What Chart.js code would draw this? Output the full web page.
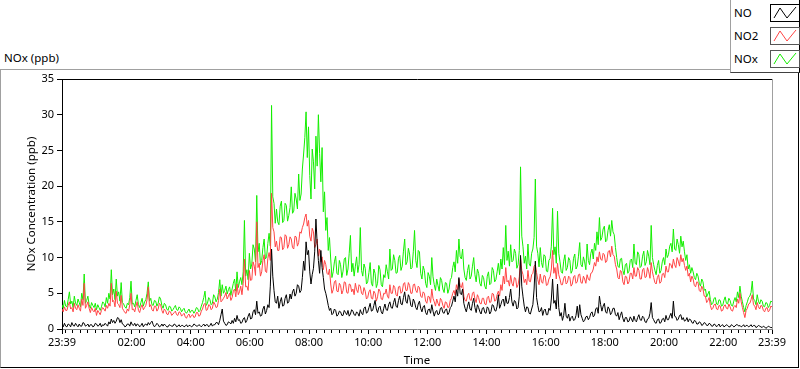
<!DOCTYPE html>
<html><head><meta charset="utf-8">
<script src="https://cdn.jsdelivr.net/npm/chart.js@4/dist/chart.umd.min.js"></script>
<style>
html,body{margin:0;padding:0;background:#fff;}
body{width:800px;height:369px;position:relative;overflow:hidden;font-family:"Noto Sans",sans-serif;color:#000;}
#frame{position:absolute;left:0;top:69px;width:797px;height:297px;border-top:1px solid #a0a0a0;border-left:1px solid #a0a0a0;border-right:1px solid #000;border-bottom:1px solid #000;}
#caption{position:absolute;left:4px;top:50px;font-size:11.5px;line-height:16px;white-space:nowrap;}
#wrap{position:absolute;left:0;top:0;width:800px;height:369px;}
#legend{position:absolute;left:730px;top:0;width:68px;height:72px;background:#fff;border-left:1px solid #a0a0a0;border-bottom:1px solid #404040;border-right:1px solid #000;}
.row{position:absolute;left:3px;height:18px;width:66px;}
.row span{position:absolute;left:0;top:0;font-size:11.5px;line-height:18px;white-space:nowrap;}
.row svg{position:absolute;left:36px;top:0;}
</style></head>
<body>
<div id="frame"></div>
<div id="caption">NOx (ppb)</div>
<div id="wrap"><canvas id="c" width="800" height="369"></canvas></div>
<div id="legend"></div>
<script>
// ---- data: readings every 2.5 minutes starting 23:39 ----
const startClock = '23:39';
const sampleMinutes = 2.5;
const seriesNames = ['NO', 'NO2', 'NOx'];
const seriesColors = ['#000000', '#ff4444', '#14ee00'];
const yTickValues = [0, 5, 10, 15, 20, 25, 30, 35];
const xTickLabels = ['23:39','02:00','04:00','06:00','08:00','10:00','12:00','14:00','16:00','18:00','20:00','22:00','23:39'];

const NO = [
0.5,0.3,0.8,0.4,0.3,0.7,0.6,0.3,0.9,0.5,0.4,0.8,0.5,0.3,0.7,0.4,0.4,0.9,0.8,0.4,0.5,0.7,0.3,0.6,0.6,0.3,0.4,0.8,0.7,0.4,0.5,0.8,0.3,0.6,
0.5,0.8,0.6,0.4,1.0,0.7,1.4,0.9,1.2,0.8,1.1,1.6,1.5,0.9,1.3,0.7,0.6,0.3,0.4,0.7,0.7,0.4,1.0,0.6,0.5,0.8,0.4,0.7,0.6,0.3,0.5,0.8,0.3,0.6,0.7,0.5,0.9,0.6,0.9,1.1,0.6,0.3,0.5,0.8,0.6,0.3,0.4,0.7,
0.4,0.7,0.5,0.3,0.3,0.6,0.5,0.4,0.4,0.7,0.6,0.3,0.4,0.6,0.3,0.5,0.5,0.3,0.4,0.6,0.3,0.5,0.5,0.3,0.4,0.7,0.6,0.4,0.4,0.6,0.5,0.3,
0.5,0.7,0.4,0.6,0.6,0.3,0.5,0.8,0.4,0.6,0.6,0.9,0.9,0.6,1.2,2.0,2.8,1.1,0.8,0.5,0.6,1.0,0.9,0.7,1.2,0.8,1.5,1.0,1.9,1.2,1.3,0.8,
0.9,1.4,1.6,0.9,1.2,1.8,2.2,1.4,1.5,2.4,2.7,2.0,3.9,2.2,2.4,1.8,1.9,2.8,3.2,2.1,2.6,3.4,3.0,6.0,11.2,7.4,5.4,3.8,
3.6,4.6,2.9,3.8,4.4,3.2,3.3,4.3,4.8,3.6,3.8,4.9,4.2,5.2,5.6,4.6,5.0,6.2,6.0,5.1,5.4,7.2,
9.5,8.2,12.2,10.4,11.0,8.0,6.3,7.6,8.5,10.8,15.4,12.0,9.6,7.8,11.0,8.6,7.2,5.6,5.0,4.2,3.3,2.6,
2.9,2.0,2.2,2.8,2.6,1.8,2.0,2.5,2.4,1.9,1.9,2.6,2.3,2.0,2.6,1.8,2.1,2.7,2.5,2.0,1.9,2.4,2.2,1.8,2.7,2.2,2.0,2.9,3.1,2.2,2.4,3.0,3.6,2.5,
2.6,3.3,4.0,2.8,2.3,3.0,3.2,2.4,2.1,2.9,3.5,2.7,2.6,3.4,3.8,3.0,2.9,3.7,4.3,3.2,3.0,4.0,4.6,3.5,3.4,4.4,5.2,3.9,3.6,4.8,4.4,3.3,3.1,4.2,
3.8,3.0,2.7,3.5,3.9,2.9,2.4,3.1,3.3,2.3,2.0,2.7,2.8,2.2,3.4,2.5,1.8,2.4,2.6,2.0,2.1,2.9,3.0,2.3,2.2,2.7,2.8,2.0,2.3,3.0,3.2,3.9,4.6,3.8,5.5,4.6,7.2,5.0,4.8,5.6,3.6,2.9,2.4,3.2,3.8,2.8,2.6,3.6,4.3,3.0,2.3,3.4,3.0,2.4,2.1,2.9,
3.0,2.3,2.2,3.1,2.9,2.1,2.4,3.4,3.3,2.6,2.5,3.2,4.8,2.9,3.4,4.0,4.2,3.2,4.6,3.6,3.6,4.4,5.6,3.8,3.2,4.0,3.8,2.8,3.0,4.6,10.3,6.0,4.5,3.2,
2.4,3.1,3.0,2.2,2.1,2.8,3.4,5.6,9.5,4.4,3.3,2.4,2.5,3.0,1.9,2.6,2.8,2.0,2.0,2.9,2.6,4.2,7.0,3.6,4.0,2.8,6.3,3.0,1.8,2.3,1.2,1.9,3.6,1.8,1.5,2.1,1.1,1.6,1.8,1.2,1.3,1.9,3.2,1.6,3.4,2.0,1.5,1.0,1.2,1.7,1.8,1.3,
1.6,2.2,2.4,1.7,1.9,2.8,3.0,2.2,4.6,3.4,2.5,3.2,3.6,2.4,2.2,3.1,2.8,2.0,2.3,2.9,2.9,2.0,1.8,2.3,1.3,1.9,2.4,1.5,1.0,1.6,1.6,1.0,1.1,1.7,
1.4,1.0,1.8,1.2,1.0,1.6,2.0,1.3,1.2,1.8,1.6,1.0,0.9,1.4,1.5,2.2,3.7,1.6,1.3,0.9,0.8,1.3,1.4,0.8,0.9,1.4,1.5,1.0,1.9,1.3,1.3,1.8,2.2,1.5,3.9,1.8,1.7,1.2,1.4,1.9,2.0,1.3,1.6,1.1,1.2,1.6,1.0,1.4,1.3,0.9,0.8,1.2,1.1,0.7,0.7,1.0,0.9,0.5,0.6,0.9,
0.8,0.5,0.5,0.8,0.7,0.4,0.4,0.7,0.6,0.3,0.5,0.7,0.3,0.5,0.6,0.3,0.4,0.6,0.5,0.3,0.3,0.6,0.5,0.3,0.4,0.6,0.6,0.4,0.5,0.3,0.4,0.6,0.3,0.5,0.5,0.3,0.4,0.6,0.3,0.5,0.5,0.2,0.3,0.5,0.4,0.3,0.2,0.4,0.3,0.1,0.2,0.4,0.3,0.2,0.2
];

const NO2 = [
2.8,2.4,3.1,2.6,2.6,3.3,3.8,2.8,3.0,2.4,3.6,2.9,2.7,3.4,2.9,2.5,4.2,3.3,6.4,2.9,3.3,3.8,2.9,2.3,3.0,2.6,2.4,2.9,1.9,2.6,2.3,2.0,2.6,3.0,
2.8,2.5,3.3,2.9,3.6,3.2,6.4,3.8,4.0,3.1,5.3,3.6,3.4,3.0,4.7,2.9,2.6,2.3,2.2,2.8,2.5,3.4,5.0,2.7,2.8,2.4,3.2,3.8,2.6,2.3,3.0,3.4,2.7,3.0,3.3,4.1,5.9,3.1,3.4,2.7,2.5,3.2,3.2,2.5,2.8,3.6,3.4,2.6,
2.2,2.8,2.6,2.1,2.0,2.5,2.4,1.9,2.1,2.3,2.5,2.0,1.9,2.4,2.3,1.8,2.0,2.2,1.7,1.5,1.9,2.1,1.6,1.9,2.0,1.6,1.7,2.3,2.3,1.8,1.9,2.5,
2.8,3.4,3.6,2.6,2.7,3.4,3.3,2.7,2.9,3.8,3.5,3.0,3.1,4.0,5.6,3.8,4.0,4.3,4.6,5.1,4.2,4.6,5.0,4.0,4.4,5.3,5.6,4.5,6.3,4.8,5.2,6.0,
4.8,6.4,9.8,5.9,6.0,5.4,8.2,6.8,6.9,9.4,8.8,7.5,15.0,8.6,9.2,7.4,8.0,9.6,10.4,8.1,7.9,9.9,10.7,9.6,19.0,14.2,13.6,11.5,
12.3,11.0,11.0,12.9,12.8,11.1,11.4,13.2,13.0,11.3,11.8,12.9,12.6,11.4,11.2,13.0,12.9,11.6,12.1,13.6,13.4,14.2,
14.7,15.6,16.1,14.4,15.2,13.0,12.3,14.1,13.6,11.4,11.8,12.6,10.2,11.2,9.4,10.1,8.3,9.6,9.0,7.8,7.6,8.4,
6.3,5.0,5.5,6.6,6.8,5.3,5.2,6.4,6.1,4.9,5.4,6.6,6.5,5.1,5.0,6.3,6.2,5.2,5.6,4.8,6.4,5.5,5.1,6.2,6.0,5.0,4.8,5.8,5.3,4.2,4.4,5.2,5.5,4.3,
4.2,5.3,5.0,3.9,4.5,5.6,5.3,4.2,4.1,5.0,4.9,5.6,4.6,4.3,6.2,5.0,5.0,6.1,5.8,4.8,4.6,5.9,6.0,5.0,5.2,6.3,6.5,5.4,5.4,6.5,6.1,5.0,5.0,6.2,
6.3,5.4,5.1,6.0,5.8,4.6,4.4,5.2,5.0,3.9,3.6,4.6,4.5,3.7,5.6,4.3,3.8,3.2,4.2,3.6,3.2,4.3,4.0,3.3,2.9,3.8,3.7,3.0,3.1,4.0,4.3,5.0,5.4,4.7,6.2,5.5,7.0,6.1,5.8,6.5,4.6,4.0,3.9,4.7,5.0,4.1,4.0,5.0,5.2,4.2,3.7,4.8,4.4,3.6,3.5,4.3,
4.3,3.5,3.4,4.4,4.6,3.7,3.8,5.0,4.9,3.9,4.0,4.8,5.3,4.6,6.2,5.4,7.4,6.3,8.6,6.6,6.8,6.0,7.5,6.4,6.0,7.2,7.1,5.8,6.2,7.3,10.0,8.2,7.6,6.5,
7.0,6.2,8.2,6.7,6.6,7.6,7.8,8.8,9.0,7.9,6.9,6.2,7.7,6.6,6.4,7.5,7.4,6.1,6.2,7.0,7.3,8.4,11.0,7.8,8.6,7.0,9.2,7.6,7.0,6.2,6.2,7.1,7.4,6.3,6.5,7.4,7.2,6.0,6.3,7.3,7.5,6.4,6.6,7.6,7.7,6.5,6.4,7.4,7.0,6.4,7.6,7.0,
6.8,7.8,7.9,8.4,9.3,8.8,10.1,9.4,10.8,9.8,9.6,10.6,10.4,9.3,9.5,10.8,11.0,10.1,11.6,10.4,10.2,9.0,8.4,7.2,7.0,8.2,8.0,6.6,6.2,7.4,7.3,6.3,6.6,7.8,
7.8,7.0,8.6,7.4,7.4,8.6,8.2,7.0,7.0,8.3,8.5,7.2,7.3,8.6,8.0,7.1,9.3,8.0,7.2,6.5,6.3,7.2,7.6,6.4,6.6,7.7,7.8,7.2,8.8,8.0,8.0,9.2,9.0,8.5,9.8,9.0,8.6,10.0,9.5,8.8,10.4,9.4,9.9,8.9,8.2,8.8,7.4,7.8,6.6,7.4,7.0,6.1,5.9,6.6,6.5,5.4,5.2,6.0,5.6,4.6,
4.6,3.7,4.0,4.4,3.3,2.7,2.9,3.4,3.5,2.8,2.7,3.3,3.2,2.5,2.6,3.2,3.4,2.9,2.8,3.5,3.1,2.6,2.5,3.1,3.3,3.0,4.2,3.6,5.0,3.8,3.0,2.3,1.6,2.6,2.9,3.5,3.6,4.1,4.8,3.4,3.2,2.7,3.7,3.1,2.8,3.3,3.2,2.6,2.4,2.9,3.0,2.4,2.6,3.2,3.1
];

const NOx = [
3.4,2.9,4.0,3.2,3.1,4.1,5.2,3.5,3.9,3.0,4.6,3.6,3.3,4.2,3.7,3.1,5.0,4.1,7.7,3.6,4.0,4.6,3.4,2.9,3.7,3.3,3.0,3.6,2.7,3.4,3.0,2.6,3.1,3.8,
3.6,3.1,4.4,3.6,5.0,4.2,8.3,4.8,5.6,4.1,7.0,4.6,5.2,3.9,6.5,3.7,3.5,3.1,2.9,3.6,3.4,4.4,6.7,3.5,3.6,3.1,4.0,4.8,3.4,3.0,3.7,4.3,3.2,3.8,4.1,5.0,6.6,3.9,4.3,3.4,3.3,4.0,3.9,3.2,3.6,4.5,4.2,3.3,
2.9,3.6,3.4,2.8,2.6,3.2,3.1,2.5,2.7,3.0,3.3,2.7,2.6,3.1,2.9,2.4,2.7,2.9,2.4,2.2,2.5,2.8,2.3,2.6,2.6,2.2,2.5,3.0,2.9,2.4,2.6,3.2,
3.7,4.4,5.3,3.3,3.6,4.4,4.1,3.4,3.6,4.8,4.5,3.8,4.2,5.1,6.9,4.6,6.2,5.0,5.4,6.0,4.9,5.5,5.9,4.7,5.6,6.4,7.0,5.3,8.0,5.8,6.6,7.2,
6.2,8.0,15.2,7.4,8.3,6.9,10.6,8.4,9.1,11.8,11.2,9.4,18.7,10.8,12.0,9.0,9.6,11.4,12.6,9.8,10.1,12.0,13.4,11.6,31.3,18.5,17.6,14.8,
16.8,15.0,14.6,17.2,17.9,14.9,15.2,17.6,17.3,15.1,15.9,17.0,19.9,16.2,16.5,19.0,18.2,16.8,21.7,18.0,18.9,22.4,
24.5,26.8,30.4,24.0,28.3,21.5,18.2,25.2,23.4,19.6,27.0,22.8,30.0,24.6,20.6,25.4,16.4,19.2,13.8,15.6,11.0,12.8,
9.8,7.2,8.0,9.4,10.2,7.8,7.6,9.6,9.0,7.2,8.1,9.8,10.0,7.5,8.4,10.6,13.1,8.0,9.2,7.4,8.8,10.1,7.9,9.0,14.2,8.2,7.4,9.1,8.5,6.3,6.6,7.9,9.3,6.4,
6.0,8.4,7.8,5.8,6.4,8.9,8.3,6.2,5.9,7.6,7.2,9.0,8.0,7.0,11.2,8.2,8.4,10.4,9.6,7.8,7.9,9.9,10.3,8.2,8.8,10.9,12.6,9.0,9.4,11.3,10.5,8.4,8.6,10.8,
13.8,9.6,8.6,11.0,10.8,7.8,7.0,8.8,8.2,6.4,5.8,7.9,7.4,6.2,10.0,7.3,6.2,5.4,7.0,6.1,5.3,7.2,6.8,5.6,5.1,6.5,6.4,5.0,5.6,6.9,7.2,8.6,9.4,8.0,11.0,9.2,12.6,10.1,9.8,11.2,8.4,7.2,6.8,8.2,9.0,7.0,7.4,8.8,10.0,7.6,6.6,8.4,7.8,6.4,6.0,7.5,
7.2,6.0,5.6,7.4,8.0,6.2,6.4,8.6,8.2,6.6,6.9,8.0,9.2,7.6,9.8,8.4,11.4,9.0,14.5,9.6,10.9,8.8,11.8,9.4,9.6,11.2,10.6,8.5,9.0,11.0,22.7,13.0,11.5,9.2,
10.2,8.4,11.9,9.1,8.8,10.6,11.2,12.8,21.0,11.6,10.6,8.7,11.4,9.3,8.6,10.4,10.2,8.1,8.0,9.6,9.9,11.6,16.9,10.4,11.5,9.2,16.5,10.6,9.4,8.0,7.8,9.5,10.4,8.2,8.6,10.0,9.6,7.8,8.2,9.9,10.5,8.4,8.8,10.2,12.1,9.0,8.7,10.1,9.4,8.3,11.9,9.6,
9.0,10.6,11.2,9.8,12.0,11.0,13.6,11.8,15.6,12.4,12.8,14.0,14.4,12.2,12.4,13.8,14.6,13.0,15.2,13.6,13.2,11.4,10.0,8.8,8.6,9.8,9.9,8.2,7.6,9.0,9.2,7.8,8.1,9.6,
9.8,8.6,11.9,9.2,9.0,10.8,10.4,8.6,8.8,10.2,10.9,8.9,9.4,11.0,10.2,9.0,14.5,10.0,9.0,8.2,7.6,8.9,9.6,7.8,8.2,9.4,10.0,9.0,11.2,10.0,10.4,11.6,12.0,10.8,14.0,11.2,11.0,12.6,11.8,10.6,13.0,11.5,12.3,10.8,9.6,10.4,8.4,9.0,7.8,8.6,8.0,7.2,6.9,7.8,7.4,6.4,6.0,7.0,6.6,5.4,
5.6,4.5,4.9,5.3,4.1,3.4,3.6,4.3,4.4,3.5,3.4,4.1,4.0,3.2,3.3,4.0,4.5,3.6,3.5,4.3,4.0,3.3,3.2,3.9,4.4,3.8,5.2,4.4,6.0,4.6,3.8,3.0,2.4,3.3,3.8,4.4,4.6,5.1,6.7,4.2,4.0,3.4,4.8,3.9,3.5,4.1,3.9,3.2,3.1,3.7,3.6,3.0,3.3,3.9,3.8
];

// ---- helpers ----
const toMin = s => { const p = s.split(':'); return (+p[0]) * 60 + (+p[1]); };
const startMin = toMin(startClock);
const DAY = 1440;
const minutes = NOx.map((_, i) => i * sampleMinutes);
const majorPos = xTickLabels.map((s, i) => i === xTickLabels.length - 1 ? DAY : (toMin(s) - startMin + DAY) % DAY);
const labelAt = {};
majorPos.forEach((p, i) => { labelAt[p] = xTickLabels[i]; });
const minorPos = [];
for (let m = 0; m <= DAY; m++) { if ((startMin + m) % 15 === 0 && !(m in labelAt)) minorPos.push(m); }

// ---- legend ----
const lg = document.getElementById('legend');
seriesNames.forEach((n, i) => {
  const r = document.createElement('div');
  r.className = 'row';
  r.style.top = (4 + i * 23) + 'px';
  r.innerHTML = '<span>' + n + '</span><svg width="30" height="18"><rect x="0.5" y="0.5" width="29" height="17" fill="#fff" stroke="' + (i === 0 ? '#000' : '#555') + '"/>' +
    '<polyline points="4,14 10,4 17,14 26,3" fill="none" stroke="' + seriesColors[i] + '" stroke-width="1"/></svg>';
  lg.appendChild(r);
});

const FONT = '"Noto Sans", sans-serif';
const framePlugin = {
  id: 'framePlugin',
  afterDraw(chart) {
    const {ctx, chartArea: a, scales: {x}} = chart;
    ctx.save();
    ctx.lineWidth = 1;
    ctx.strokeStyle = '#000';
    ctx.beginPath(); ctx.moveTo(a.left, a.top + 0.5); ctx.lineTo(a.right + 1, a.top + 0.5); ctx.stroke();
    ctx.strokeStyle = '#a0a0a0';
    ctx.beginPath(); ctx.moveTo(Math.round(a.right) + 0.5, a.top); ctx.lineTo(Math.round(a.right) + 0.5, a.bottom); ctx.stroke();
    ctx.strokeStyle = '#000';
    ctx.beginPath();
    minorPos.forEach(m => {
      const px = Math.round(x.getPixelForValue(m)) + 0.5;
      ctx.moveTo(px, a.bottom + 1); ctx.lineTo(px, a.bottom + 4);
    });
    ctx.stroke();
    ctx.restore();
  }
};

new Chart(document.getElementById('c'), {
  type: 'line',
  data: {
    labels: minutes,
    datasets: seriesNames.map((n, i) => ({
      label: n,
      data: [NO, NO2, NOx][i],
      borderColor: seriesColors[i],
      backgroundColor: seriesColors[i],
      borderWidth: 1,
      pointRadius: 0,
      tension: 0,
      fill: false
    }))
  },
  options: {
    responsive: false,
    devicePixelRatio: 1,
    animation: false,
    events: [],
    layout: { padding: { top: 79, right: 28, bottom: 0, left: 0 } },
    plugins: { legend: { display: false }, tooltip: { enabled: false } },
    scales: {
      x: {
        type: 'linear', min: 0, max: DAY,
        afterBuildTicks: s => { s.ticks = majorPos.map(v => ({ value: v })); },
        afterFit: s => { s.height = 40; },
        ticks: { autoSkip: false, maxRotation: 0, padding: 2, color: '#000', font: { family: FONT, size: 11 },
                 callback: v => labelAt[v] || '' },
        grid: { drawOnChartArea: false, drawTicks: true, tickLength: 5, tickColor: '#000' },
        border: { color: '#808080' },
        title: { display: true, text: 'Time', color: '#000', font: { family: FONT, size: 11.5 }, padding: { top: 0, bottom: 1 } }
      },
      y: {
        min: 0, max: 35,
        afterBuildTicks: s => { s.ticks = yTickValues.map(v => ({ value: v })); },
        afterFit: s => { s.width = 62; },
        ticks: { padding: 3, color: '#000', font: { family: FONT, size: 11 } },
        grid: { drawOnChartArea: false, drawTicks: true, tickLength: 5, tickColor: '#000' },
        border: { color: '#000' },
        title: { display: true, text: 'NOx Concentration (ppb)', color: '#000', font: { family: FONT, size: 11.5 }, padding: { top: 25, bottom: 0 } }
      }
    }
  },
  plugins: [framePlugin]
});
</script>
</body></html>
